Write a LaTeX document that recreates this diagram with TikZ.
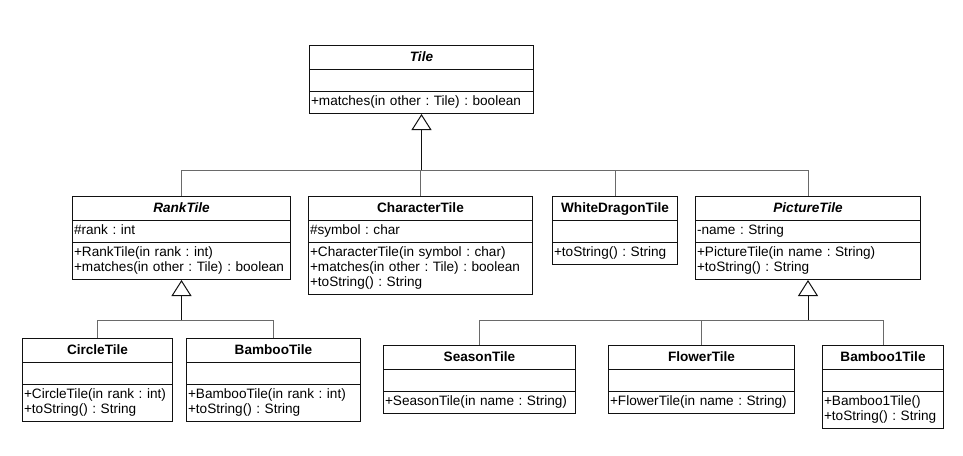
\documentclass[tikz,border=0pt]{standalone}
\usepackage{fontspec}
\setmainfont{Liberation Sans}
\usepackage{tikz}
\usetikzlibrary{positioning,shapes.multipart,arrows.meta,calc}
\definecolor{umlink} {HTML}{111111}
\definecolor{umlwire}{HTML}{6A6A6A}
\newcommand\clsname[1]{\makebox[\hsize]{\rule[-5pt]{0pt}{17pt}\textbf{#1}}}
\newcommand\absname[1]{\makebox[\hsize]{\rule[-5pt]{0pt}{17pt}\textbf{\itshape #1}}}
\tikzset{
  every node/.style={font=\fontsize{13.6}{15}\selectfont\frenchspacing},
  % --- nodes
  cls/.style   = {rectangle split, rectangle split parts=3, draw=umlink, fill=white,
                  line width=1pt, anchor=north west, align=left,
                  inner xsep=1.5pt, inner ysep=3pt},
  % --- edges
  branch/.style= {draw=umlwire, line width=1pt},
  inh/.style   = {draw=umlink, line width=1pt, -{Triangle[open,width=20pt,length=16pt]}},
}

\begin{document}
\begin{tikzpicture}[x=1pt,y=-1pt]
  \useasboundingbox (0,0) rectangle (963,455);
  % abstract root
  \node[cls, text width=221pt] (Tile) at (309,45)
    {\absname{Tile}
     \nodepart{two}\strut
     \nodepart{three}\strut+matches(in other : Tile) : boolean};
  % second row
  \node[cls, text width=215pt] (RankTile) at (72,196)
    {\absname{RankTile}
     \nodepart{two}\strut\#rank : int
     \nodepart{three}\strut+RankTile(in rank : int)\\
                     \strut+matches(in other : Tile) : boolean};
  \node[cls, text width=221pt] (CharacterTile) at (308,196)
    {\clsname{CharacterTile}
     \nodepart{two}\strut\#symbol : char
     \nodepart{three}\strut+CharacterTile(in symbol : char)\\
                     \strut+matches(in other : Tile) : boolean\\
                     \strut+toString() : String};
  \node[cls, text width=122pt] (WhiteDragonTile) at (552,196)
    {\clsname{WhiteDragonTile}
     \nodepart{two}\strut
     \nodepart{three}\strut+toString() : String};
  \node[cls, text width=222pt] (PictureTile) at (695,196)
    {\absname{PictureTile}
     \nodepart{two}\strut-name : String
     \nodepart{three}\strut+PictureTile(in name : String)\\
                     \strut+toString() : String};
  % third row
  \node[cls, text width=147pt] (CircleTile) at (22,338)
    {\clsname{CircleTile}
     \nodepart{two}\strut
     \nodepart{three}\strut+CircleTile(in rank : int)\\
                     \strut+toString() : String};
  \node[cls, text width=171pt] (BambooTile) at (186,338)
    {\clsname{BambooTile}
     \nodepart{two}\strut
     \nodepart{three}\strut+BambooTile(in rank : int)\\
                     \strut+toString() : String};
  \node[cls, text width=189pt] (SeasonTile) at (383,345)
    {\clsname{SeasonTile}
     \nodepart{two}\strut
     \nodepart{three}\strut+SeasonTile(in name : String)};
  \node[cls, text width=183pt] (FlowerTile) at (608,345)
    {\clsname{FlowerTile}
     \nodepart{two}\strut
     \nodepart{three}\strut+FlowerTile(in name : String)};
  \node[cls, text width=118pt] (Bamboo1Tile) at (822,345)
    {\clsname{Bamboo1Tile}
     \nodepart{two}\strut
     \nodepart{three}\strut+Bamboo1Tile()\\
                     \strut+toString() : String};

  % generalisations
  \coordinate (tj) at (Tile.south |- 0,170);
  \coordinate (rj) at (RankTile.south |- 0,320);
  \coordinate (pj) at (PictureTile.south |- 0,320);
  \foreach \c in {RankTile,CharacterTile,WhiteDragonTile,PictureTile}
    \draw[branch] (\c.north) |- (tj);
  \foreach \c in {CircleTile,BambooTile}
    \draw[branch] (\c.north) |- (rj);
  \foreach \c in {SeasonTile,FlowerTile,Bamboo1Tile}
    \draw[branch] (\c.north) |- (pj);
  \draw[inh] (tj) -- (Tile.south);
  \draw[inh] (rj) -- (RankTile.south);
  \draw[inh] (pj) -- (PictureTile.south);
\end{tikzpicture}
\end{document}
